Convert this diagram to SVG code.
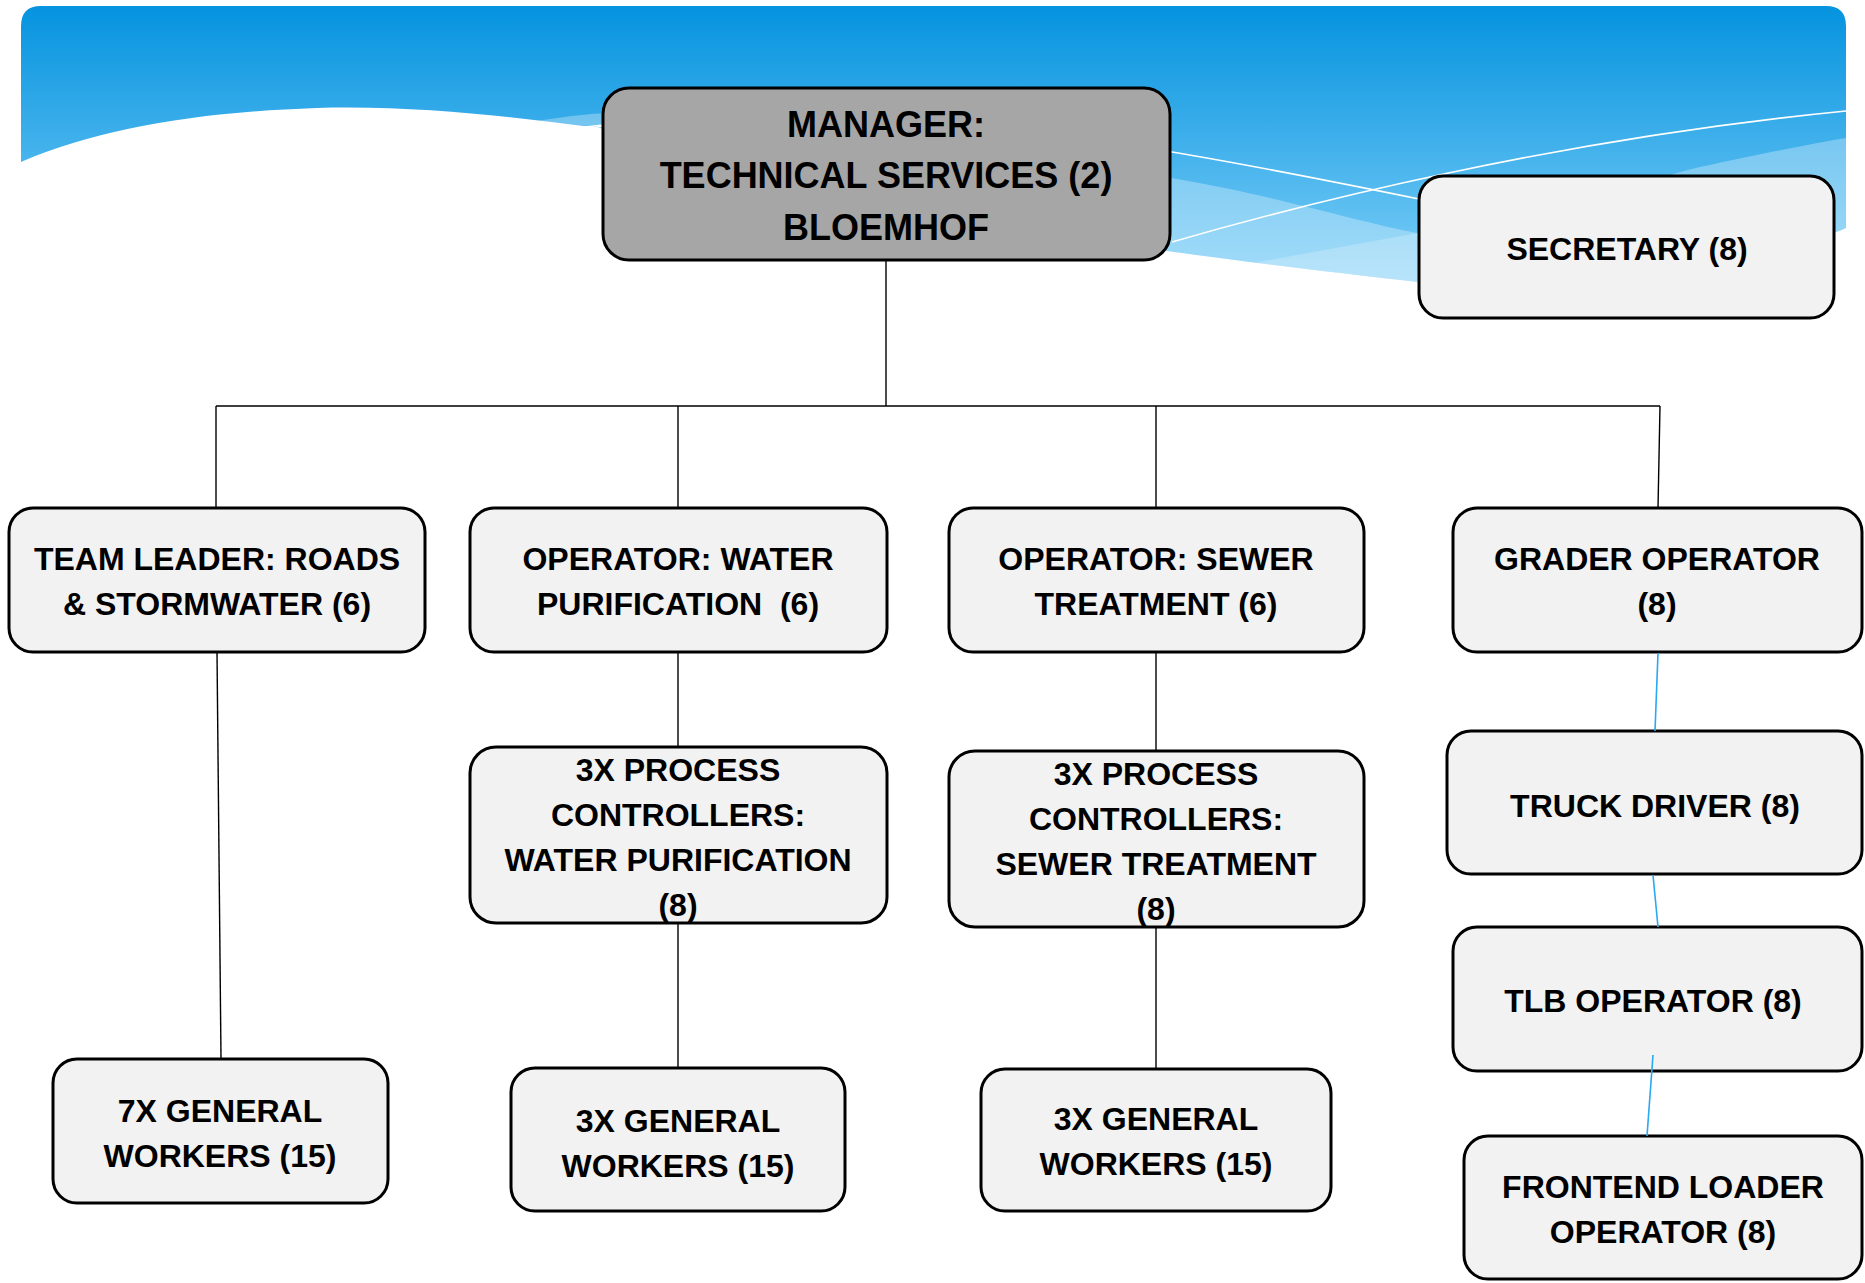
<svg xmlns="http://www.w3.org/2000/svg" width="1865" height="1283" viewBox="0 0 1865 1283">
  <defs>
    <linearGradient id="sky" gradientUnits="userSpaceOnUse" x1="0" y1="6" x2="0" y2="290">
      <stop offset="0" stop-color="#0593df"/>
      <stop offset="1" stop-color="#80d0f8"/>
    </linearGradient>
  </defs>
  <style>
    .box { fill: #f2f2f2; stroke: #000; stroke-width: 3; }
    .mgr { fill: #a6a6a6; stroke: #000; stroke-width: 3; }
    .t { font-family: "Liberation Sans", Arial, sans-serif; font-weight: bold; font-size: 32px; fill: #000; text-anchor: middle; }
    .tm { font-size: 36px; }
    .ln { stroke: #000; stroke-width: 1.4; fill: none; }
    .bl { stroke: #29a9f0; stroke-width: 1.6; fill: none; }
    .wl { stroke: #fff; stroke-width: 1.6; fill: none; }
  </style>

  <g id="background">
    <path fill="url(#sky)" d="M21,26 Q21,6 41,6 H1826 Q1846,6 1846,26 V228 C1800,250 1560,300 1418,282 C1330,272 1253,263 1160,250 C900,215 750,150 600,128 C520,118 420,105 317,108 C200,112 100,128 21,162 Z"/>
    <path fill="#fff" fill-opacity="0.3" d="M537,121 C570,116 590,113 620,113 C800,115 1000,150 1172,178 C1300,200 1380,230 1440,236 C1520,240 1600,190 1700,167 C1760,154 1810,144 1846,138 V228 C1800,250 1560,300 1418,282 C1330,272 1253,263 1160,250 C900,215 750,150 600,128 C575,124 555,123 537,121 Z"/>
    <path fill="#fff" fill-opacity="0.22" d="M1253,263 L1418,233 L1600,210 L1600,296 L1418,282 C1330,272 1290,267 1253,263 Z"/>
    <path class="wl" d="M578,128 C700,110 1000,125 1172,152 C1250,165 1350,185 1419,199 L1500,215"/>
    <path class="wl" d="M583,130 L603,126 M1172,242 C1300,205 1550,140 1846,111"/>
  </g>

  <g id="n-manager">
    <rect class="mgr" x="603" y="88" width="567" height="172" rx="26"/>
    <text class="t tm" x="886" y="137">MANAGER:</text>
    <text class="t tm" x="886" y="188">TECHNICAL SERVICES (2)</text>
    <text class="t tm" x="886" y="240">BLOEMHOF</text>
  </g>
  <g id="n-secretary">
    <rect class="box" x="1419" y="176" width="415" height="142" rx="24"/>
    <text class="t" x="1627" y="260">SECRETARY (8)</text>
  </g>
  <g id="n-teamleader">
    <rect class="box" x="9" y="508" width="416" height="144" rx="24"/>
    <text class="t" x="217" y="570">TEAM LEADER: ROADS</text>
    <text class="t" x="217" y="615">&amp; STORMWATER (6)</text>
  </g>
  <g id="n-op-water">
    <rect class="box" x="470" y="508" width="417" height="144" rx="24"/>
    <text class="t" x="678" y="570">OPERATOR: WATER</text>
    <text class="t" x="678" y="615" xml:space="preserve">PURIFICATION  (6)</text>
  </g>
  <g id="n-op-sewer">
    <rect class="box" x="949" y="508" width="415" height="144" rx="24"/>
    <text class="t" x="1156" y="570">OPERATOR: SEWER</text>
    <text class="t" x="1156" y="615">TREATMENT (6)</text>
  </g>
  <g id="n-grader">
    <rect class="box" x="1453" y="508" width="409" height="144" rx="24"/>
    <text class="t" x="1657" y="570">GRADER OPERATOR</text>
    <text class="t" x="1657" y="615">(8)</text>
  </g>
  <g id="n-pc-water">
    <rect class="box" x="470" y="747" width="417" height="176" rx="26"/>
    <text class="t" x="678" y="781">3X PROCESS</text>
    <text class="t" x="678" y="826">CONTROLLERS:</text>
    <text class="t" x="678" y="871">WATER PURIFICATION</text>
    <text class="t" x="678" y="916">(8)</text>
  </g>
  <g id="n-pc-sewer">
    <rect class="box" x="949" y="751" width="415" height="176" rx="26"/>
    <text class="t" x="1156" y="785">3X PROCESS</text>
    <text class="t" x="1156" y="830">CONTROLLERS:</text>
    <text class="t" x="1156" y="875">SEWER TREATMENT</text>
    <text class="t" x="1156" y="920">(8)</text>
  </g>
  <g id="n-truck">
    <rect class="box" x="1447" y="731" width="415" height="143" rx="24"/>
    <text class="t" x="1655" y="817">TRUCK DRIVER (8)</text>
  </g>
  <g id="n-tlb">
    <rect class="box" x="1453" y="927" width="409" height="144" rx="24"/>
    <text class="t" x="1653" y="1012">TLB OPERATOR (8)</text>
  </g>
  <g id="n-frontend">
    <rect class="box" x="1464" y="1136" width="398" height="143" rx="24"/>
    <text class="t" x="1663" y="1198">FRONTEND LOADER</text>
    <text class="t" x="1663" y="1243">OPERATOR (8)</text>
  </g>
  <g id="n-gw-roads">
    <rect class="box" x="53" y="1059" width="335" height="144" rx="24"/>
    <text class="t" x="220" y="1122">7X GENERAL</text>
    <text class="t" x="220" y="1167">WORKERS (15)</text>
  </g>
  <g id="n-gw-water">
    <rect class="box" x="511" y="1068" width="334" height="143" rx="24"/>
    <text class="t" x="678" y="1132">3X GENERAL</text>
    <text class="t" x="678" y="1177">WORKERS (15)</text>
  </g>
  <g id="n-gw-sewer">
    <rect class="box" x="981" y="1069" width="350" height="142" rx="24"/>
    <text class="t" x="1156" y="1130">3X GENERAL</text>
    <text class="t" x="1156" y="1175">WORKERS (15)</text>
  </g>

  <g id="connectors">
    <path class="ln" d="M886,260 V406"/>
    <path class="ln" d="M216,406 H1660"/>
    <path class="ln" d="M216,406 V508"/>
    <path class="ln" d="M678,406 V508"/>
    <path class="ln" d="M1156,406 V508"/>
    <path class="ln" d="M1660,406 L1658,508"/>
    <path class="ln" d="M217,652 L221,1059"/>
    <path class="ln" d="M678,652 V747"/>
    <path class="ln" d="M678,923 V1068"/>
    <path class="ln" d="M1156,652 V751"/>
    <path class="ln" d="M1156,927 V1069"/>
    <path class="bl" d="M1658,653 L1655,731"/>
    <path class="bl" d="M1653,875 L1658,927"/>
    <path class="bl" d="M1653,1055 L1647,1136"/>
  </g>
</svg>
